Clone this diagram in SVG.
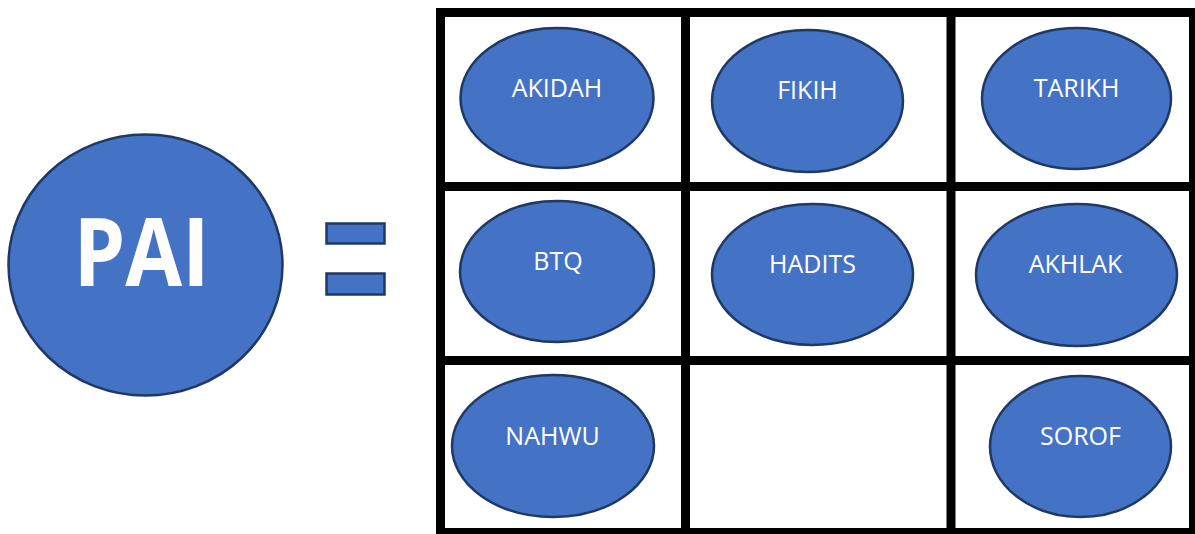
<svg xmlns="http://www.w3.org/2000/svg" width="1195" height="534" viewBox="0 0 1195 534">
  <style>
    .shape { fill: #4472C4; stroke: #1F3864; stroke-width: 2.5; }
    .grid { fill: none; stroke: #000000; stroke-width: 9; }
    .label { fill: #FFFFFF; font-family: "Open Sans", "Liberation Sans", sans-serif; font-size: 25px; text-anchor: middle; }
    .title { fill: #FFFFFF; font-family: "Open Sans", "Liberation Sans", sans-serif; font-weight: bold; font-size: 95px; text-anchor: middle; }
  </style>
  <rect width="1195" height="534" fill="#FFFFFF"/>

  <!-- main subject -->
  <g id="pai">
    <ellipse class="shape" cx="145.5" cy="265" rx="137" ry="130.5"/>
    <text class="title" x="141.5" y="286" textLength="136" lengthAdjust="spacingAndGlyphs">PAI</text>
  </g>

  <!-- equals sign -->
  <g id="equals">
    <rect class="shape" x="326.5" y="223.5" width="58" height="20"/>
    <rect class="shape" x="326.5" y="273.5" width="58" height="21"/>
  </g>

  <!-- 3x3 table -->
  <g id="grid">
    <rect class="grid" x="440.5" y="12.5" width="753" height="520"/>
    <line class="grid" x1="685.5" y1="12.5" x2="685.5" y2="532.5"/>
    <line class="grid" x1="951" y1="12.5" x2="951" y2="532.5"/>
    <line class="grid" x1="440.5" y1="186.5" x2="1193.5" y2="186.5"/>
    <line class="grid" x1="440.5" y1="360.5" x2="1193.5" y2="360.5"/>
  </g>

  <!-- subjects -->
  <g id="akidah">
    <ellipse class="shape" cx="557" cy="98" rx="96.5" ry="70"/>
    <text class="label" x="557" y="97">AKIDAH</text>
  </g>
  <g id="fikih">
    <ellipse class="shape" cx="807.5" cy="101" rx="95.5" ry="71"/>
    <text class="label" x="807.5" y="99">FIKIH</text>
  </g>
  <g id="tarikh">
    <ellipse class="shape" cx="1076.5" cy="98.5" rx="94.5" ry="70.5"/>
    <text class="label" x="1076.5" y="97">TARIKH</text>
  </g>
  <g id="btq">
    <ellipse class="shape" cx="557" cy="271.5" rx="97" ry="70.5"/>
    <text class="label" x="558" y="270">BTQ</text>
  </g>
  <g id="hadits">
    <ellipse class="shape" cx="812.5" cy="274.5" rx="100.5" ry="70.5"/>
    <text class="label" x="812.5" y="273">HADITS</text>
  </g>
  <g id="akhlak">
    <ellipse class="shape" cx="1076.5" cy="275" rx="100.5" ry="71"/>
    <text class="label" x="1075.5" y="273">AKHLAK</text>
  </g>
  <g id="nahwu">
    <ellipse class="shape" cx="553" cy="446" rx="101" ry="71"/>
    <text class="label" x="552.5" y="445">NAHWU</text>
  </g>
  <g id="sorof">
    <ellipse class="shape" cx="1080.5" cy="446.5" rx="90.5" ry="70.5"/>
    <text class="label" x="1080.5" y="445">SOROF</text>
  </g>
</svg>
